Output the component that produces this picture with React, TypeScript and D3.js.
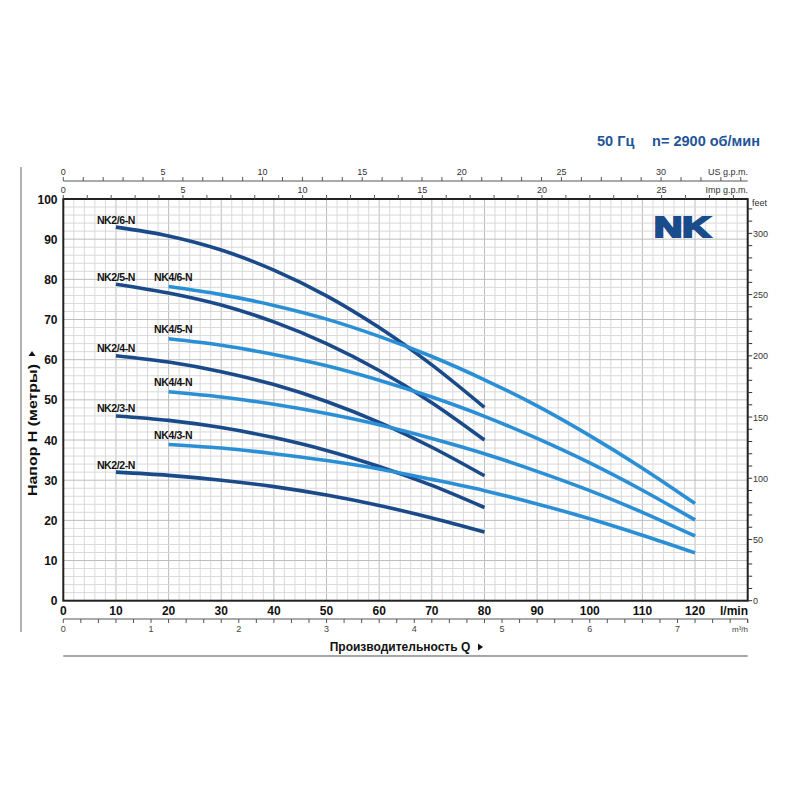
import React from "react";
import * as d3 from "d3";

// ---- data ----
const qNK2 = [10, 20, 30, 40, 50, 60, 70, 80]; // l/min
const qNK4 = [20, 30, 40, 50, 60, 70, 80, 90, 100, 110, 120]; // l/min

const hNK2_6 = [93.0, 90.8, 87.3, 82.3, 75.9, 68.0, 58.7, 48.1];
const hNK2_5 = [78.8, 76.6, 73.6, 69.4, 64.0, 57.3, 49.3, 40.0];
const hNK2_4 = [61.0, 59.4, 57.0, 53.8, 49.6, 44.4, 38.2, 31.1];
const hNK2_3 = [46.0, 44.9, 43.1, 40.6, 37.4, 33.4, 28.7, 23.2];
const hNK2_2 = [32.0, 31.2, 30.0, 28.4, 26.3, 23.7, 20.6, 17.1];

const hNK4_6 = [78.2, 76.2, 73.5, 70.1, 65.8, 60.8, 55.0, 48.5, 41.1, 33.0, 24.2];
const hNK4_5 = [65.2, 63.6, 61.3, 58.5, 54.9, 50.7, 45.9, 40.4, 34.3, 27.5, 20.1];
const hNK4_4 = [52.0, 50.7, 48.9, 46.6, 43.8, 40.4, 36.6, 32.2, 27.4, 22.0, 16.1];
const hNK4_3 = [38.9, 38.0, 36.6, 34.9, 32.8, 30.2, 27.4, 24.1, 20.4, 16.3, 11.9];

const nk2Names = ["NK2/6-N", "NK2/5-N", "NK2/4-N", "NK2/3-N", "NK2/2-N"];
const nk4Names = ["NK4/6-N", "NK4/5-N", "NK4/4-N", "NK4/3-N"];

const xTicks = [0, 10, 20, 30, 40, 50, 60, 70, 80, 90, 100, 110, 120];
const yTicks = [0, 10, 20, 30, 40, 50, 60, 70, 80, 90, 100];
const feetLabels = [0, 50, 100, 150, 200, 250, 300];
const usLabels = [0, 5, 10, 15, 20, 25, 30];
const impLabels = [0, 5, 10, 15, 20, 25];
const m3Labels = [0, 1, 2, 3, 4, 5, 6, 7];

const DARK = "#1a4a8a";
const LIGHT = "#2b8fd5";
const FONT = "'Liberation Sans', Arial, sans-serif";

export default function App() {
  const left = 63.3, right = 747.7, top = 199, bottom = 600.7;
  const x = d3.scaleLinear().domain([0, 130]).range([left, right]);
  const y = d3.scaleLinear().domain([0, 100]).range([bottom, top]);

  const US = 3.785, IMP = 4.546, M3 = 16.6667, FT = 3.2808;

  const series = [
    ...[hNK2_6, hNK2_5, hNK2_4, hNK2_3, hNK2_2].map((h, i) => ({ name: nk2Names[i], q: qNK2, h, color: DARK, dx: -19, dy: -3.5 })),
    ...[hNK4_6, hNK4_5, hNK4_4, hNK4_3].map((h, i) => ({ name: nk4Names[i], q: qNK4, h, color: LIGHT, dx: -14.5, dy: -5.5 })),
  ];

  const line = d3
    .line<[number, number]>()
    .x((d) => x(d[0]))
    .y((d) => y(d[1]))
    .curve(d3.curveMonotoneX);

  const vMinor = d3.range(0, 130.01, 2);
  const hMinor = d3.range(0, 100.01, 2);

  const usTicks = d3.range(0, 130 / US, 1);
  const impTicks = d3.range(0, 130 / IMP, 1);
  const m3Ticks = d3.range(0, 130 / M3 + 0.001, 0.2);
  const ftTicks = d3.range(0, 100 * FT, 10);

  return (
    <svg width={800} height={800} style={{ position: "absolute", left: 0, top: 0, background: "#fff" }} fontFamily={FONT}>
      {/* grid */}
      {vMinor.map((v) => (
        <line key={"vg" + v} x1={x(v)} x2={x(v)} y1={top} y2={bottom} stroke={v % 10 === 0 ? "#bdbdbd" : "#d9d9d9"} strokeWidth={1} />
      ))}
      {hMinor.map((v) => (
        <line key={"hg" + v} x1={left} x2={right} y1={y(v)} y2={y(v)} stroke={v % 10 === 0 ? "#bdbdbd" : "#d9d9d9"} strokeWidth={1} />
      ))}

      {/* NK logo */}
      <text x={654} y={236.5} fontFamily="'Liberation Sans', Arial, sans-serif" fontWeight="bold" fontSize={29} fill="#1a4c8c" stroke="#1a4c8c" strokeWidth={2.2} strokeLinejoin="miter" textLength={56.5} lengthAdjust="spacingAndGlyphs">NK</text>

      {/* curves */}
      {series.map((s) => (
        <path key={s.name} d={line(s.q.map((q, i) => [q, s.h[i]] as [number, number])) || ""} fill="none" stroke={s.color} strokeWidth={3.6} />
      ))}
      {series.map((s) => (
        <text key={"l" + s.name} x={x(s.q[0]) + s.dx} y={y(s.h[0]) + s.dy} fontSize={10.5} fontWeight="bold" fill="#111" letterSpacing={-0.4}>
          {s.name}
        </text>
      ))}

      {/* frame */}
      <rect x={left} y={top} width={right - left} height={bottom - top} fill="none" stroke="#222" strokeWidth={2} />

      {/* left axis labels */}
      {yTicks.map((v) => (
        <text key={"yl" + v} x={57.5} y={y(v) + 4.5} textAnchor="end" fontSize={12} fontWeight="bold" fill="#111">{v}</text>
      ))}
      {/* bottom l/min labels */}
      {xTicks.map((v) => (
        <text key={"xl" + v} x={x(v)} y={615} textAnchor="middle" fontSize={12} fontWeight="bold" fill="#111">{v}</text>
      ))}
      <text x={748} y={615} textAnchor="end" fontSize={12} fontWeight="bold" fill="#111">l/min</text>

      {/* right feet axis */}
      {ftTicks.map((f) => (
        <line key={"ft" + f} x1={right} x2={right + 4.5} y1={y(f / FT)} y2={y(f / FT)} stroke="#333" strokeWidth={1} />
      ))}
      {feetLabels.map((f) => (
        <text key={"fl" + f} x={753} y={y(f / FT) + 3.5} fontSize={9} fill="#333">{f}</text>
      ))}
      <text x={752} y={206} fontSize={9} fill="#333">feet</text>

      {/* top US gpm axis */}
      <line x1={left} x2={right} y1={181} y2={181} stroke="#555" strokeWidth={1} />
      {usTicks.map((t) => (
        <line key={"us" + t} x1={x(t * US)} x2={x(t * US)} y1={181} y2={177} stroke="#555" strokeWidth={1} />
      ))}
      {usLabels.map((t) => (
        <text key={"usl" + t} x={x(t * US)} y={174.5} textAnchor="middle" fontSize={9} fill="#333">{t}</text>
      ))}
      <text x={748} y={174.5} textAnchor="end" fontSize={9} fill="#333">US g.p.m.</text>

      {/* Imp gpm axis */}
      {impTicks.map((t) => (
        <line key={"imp" + t} x1={x(t * IMP)} x2={x(t * IMP)} y1={top} y2={top - 4} stroke="#555" strokeWidth={1} />
      ))}
      {impLabels.map((t) => (
        <text key={"impl" + t} x={x(t * IMP)} y={192.5} textAnchor="middle" fontSize={9} fill="#333">{t}</text>
      ))}
      <text x={748} y={192.5} textAnchor="end" fontSize={9} fill="#333">Imp g.p.m.</text>

      {/* m3/h axis */}
      <line x1={left} x2={right} y1={619} y2={619} stroke="#555" strokeWidth={1} />
      {m3Ticks.map((t) => (
        <line key={"m3" + t} x1={x(t * M3)} x2={x(t * M3)} y1={619} y2={623} stroke="#555" strokeWidth={1} />
      ))}
      <line x1={right} x2={right} y1={619} y2={623} stroke="#555" strokeWidth={1} />
      {m3Labels.map((t) => (
        <text key={"m3l" + t} x={x(t * M3)} y={632} textAnchor="middle" fontSize={9} fill="#444">{t}</text>
      ))}
      <text x={748} y={632} textAnchor="end" fontSize={8} fill="#444">m³/h</text>

      {/* axis titles */}
      <text x={400} y={651} textAnchor="middle" fontSize={12} fontWeight="bold" fill="#111">Производительность Q</text>
      <path d="M478,643.5 L483,647 L478,650.5 Z" fill="#111" />
      <g transform="translate(36.5,430) rotate(-90)">
        <text x={0} y={0} textAnchor="middle" fontSize={12.5} fontWeight="bold" fill="#111" textLength={132} lengthAdjust="spacingAndGlyphs">Напор H (метры)</text>
      </g>
      <path d="M28.5,356 L32,351 L35.5,356 Z" fill="#111" />

      {/* decorative lines */}
      <line x1={21} x2={21} y1={167} y2={632} stroke="#999" strokeWidth={1.5} />
      <line x1={left} x2={right} y1={656} y2={656} stroke="#888" strokeWidth={1.5} />

      {/* title */}
      <text x={597} y={146} fontSize={14.5} fontWeight="bold" fill="#1f5599">50 Гц</text>
      <text x={760} y={146} textAnchor="end" fontSize={14.5} fontWeight="bold" fill="#1f5599">n= 2900 об/мин</text>
    </svg>
  );
}
